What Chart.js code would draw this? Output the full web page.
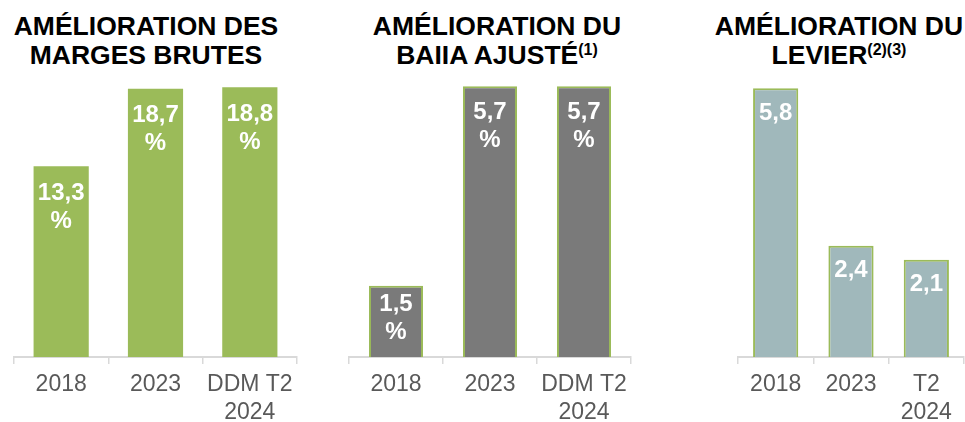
<!DOCTYPE html>
<html><head><meta charset="utf-8">
<script src="https://cdn.jsdelivr.net/npm/chart.js@4/dist/chart.umd.min.js"></script>
<style>
html,body{margin:0;padding:0;background:#fff;width:965px;height:422px;overflow:hidden;font-family:"Liberation Sans",Arial,sans-serif;}
.c{position:absolute;top:0;height:422px;}
.t{position:absolute;top:12px;width:400px;text-align:center;font-weight:bold;font-size:26.5px;line-height:29px;color:#000;white-space:nowrap;}
.t sup{font-size:16px;line-height:0;vertical-align:9px;}
</style></head><body>
<div class="t" style="left:-54px">AMÉLIORATION DES<br>MARGES BRUTES</div>
<div class="t" style="left:297px">AMÉLIORATION DU<br>BAIIA AJUSTÉ<sup>(1)</sup></div>
<div class="t" style="left:639px">AMÉLIORATION DU<br>LEVIER<sup>(2)(3)</sup></div>
<canvas id="c1" class="c" style="left:0px" width="310" height="422"></canvas>
<canvas id="c2" class="c" style="left:320px" width="320" height="422"></canvas>
<canvas id="c3" class="c" style="left:640px" width="325" height="422"></canvas>
<script>
const margesLabels = [["2018"], ["2023"], ["DDM T2", "2024"]];
const margesValues = [13.3, 18.7, 18.8];
const baiiaLabels = [["2018"], ["2023"], ["DDM T2", "2024"]];
const baiiaValues = [1.5, 5.7, 5.7];
const levierLabels = [["2018"], ["2023"], ["T2", "2024"]];
const levierValues = [5.8, 2.4, 2.1];

const FONT = "'Liberation Sans', Arial, sans-serif";

const valueLabels = {
  id: 'valueLabels',
  afterDatasetsDraw(chart, args, opts) {
    const ctx = chart.ctx;
    const meta = chart.getDatasetMeta(0);
    const data = chart.data.datasets[0].data;
    ctx.save();
    ctx.fillStyle = '#ffffff';
    ctx.font = 'bold 24px ' + FONT;
    ctx.textAlign = 'center';
    ctx.textBaseline = 'middle';
    meta.data.forEach((bar, i) => {
      const txt = data[i].toFixed(1).replace('.', ',');
      const lines = opts.percent ? [txt, '%'] : [txt];
      const h = bar.base - bar.y;
      let off = opts.offset;
      if (lines.length > 1 && h < off * 2 + 28 + 20) off = Math.min(off, (h - 28) / 2 - 3);
      lines.forEach((l, k) => ctx.fillText(l, bar.x, bar.y + off + k * 28));
    });
    ctx.restore();
  }
};

function make(id, labels, values, opt) {
  new Chart(document.getElementById(id), {
    type: 'bar',
    data: {
      labels: labels,
      datasets: [{
        data: values,
        backgroundColor: opt.fill,
        borderColor: '#9BBB59',
        borderWidth: opt.border,
        borderSkipped: 'bottom',
        categoryPercentage: 1,
        barPercentage: opt.bp
      }]
    },
    options: {
      responsive: false,
      animation: false,
      events: [],
      layout: { padding: { top: opt.top, left: opt.left, right: opt.right, bottom: 0 } },
      plugins: {
        legend: { display: false },
        tooltip: { enabled: false },
        valueLabels: { percent: opt.percent, offset: opt.offset }
      },
      scales: {
        x: {
          offset: true,
          afterFit(s) { s.height = 65; },
          grid: { display: true, drawOnChartArea: false, drawTicks: true, tickLength: 7, offset: true, color: '#D9D9D9', lineWidth: 1.5 },
          border: { display: true, color: '#D9D9D9', width: 2 },
          ticks: { color: '#595959', font: { family: FONT, size: 23 }, padding: 7, maxRotation: 0, autoSkip: false }
        },
        y: { display: false, min: 0, max: opt.max }
      }
    },
    plugins: [valueLabels]
  });
}

make('c1', margesLabels, margesValues, { fill: '#9BBB59', border: 0, bp: 0.585, top: 70, left: 14, right: 13, max: 20, percent: true, offset: 27 });
make('c2', baiiaLabels, baiiaValues, { fill: '#7A7A7A', border: 2, bp: 0.575, top: 72, left: 29, right: 9, max: 6, percent: true, offset: 26 });
make('c3', levierLabels, levierValues, { fill: '#A0B8BB', border: 2, bp: 0.6, top: 79, left: 98, right: 1, max: 6, percent: false, offset: 25 });
</script>
</body></html>
